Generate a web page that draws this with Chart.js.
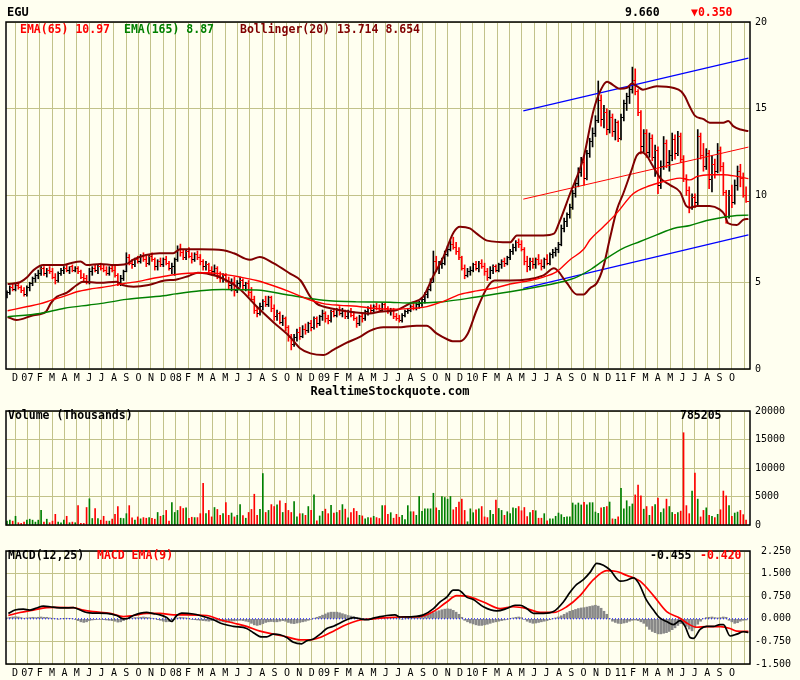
<!DOCTYPE html>
<html><head><meta charset="utf-8">
<script src="https://cdn.jsdelivr.net/npm/chart.js@4.4.0/dist/chart.umd.min.js"></script>
<style>
html,body{margin:0;padding:0;background:#FFFFF0;}
#wrap{position:relative;width:800px;height:680px;overflow:hidden;background:#FFFFF0;}
canvas{position:absolute;left:0;}
</style></head><body>
<div id="wrap">
<canvas id="c1" width="800" height="400" style="top:0;width:800px;height:400px"></canvas>
<canvas id="c2" width="800" height="140" style="top:400px;width:800px;height:140px"></canvas>
<canvas id="c3" width="800" height="140" style="top:540px;width:800px;height:140px"></canvas>
</div>
<script>
// ---------- tick labels ----------
const monthLabels = ['D',
 '07','F','M','A','M','J','J','A','S','O','N','D',
 '08','F','M','A','M','J','J','A','S','O','N','D',
 '09','F','M','A','M','J','J','A','S','O','N','D',
 '10','F','M','A','M','J','J','A','S','O','N','D',
 '11','F','M','A','M','J','J','A','S','O',''];
const priceTicks = [0,5,10,15,20];
const volumeTicks = [0,5000,10000,15000,20000];
const macdTicks = [-1.5,-0.75,0,0.75,1.5,2.25];

// weekly bars: time in months since Dec 2006
const firstWeek = -0.65;
const weekStep = 12/52.18;

// ---------- weekly OHLC ----------
const priceOpen = [4.3,4.4,4.7,4.6,4.8,4.7,4.5,4.3,4.7,4.9,5.2,5.4,5.5,5.8,5.5,5.7,5.6,5.3,5.1,5.5,5.7,5.8,5.7,5.9,5.7,5.8,5.6,5.3,5.2,5.0,
5.6,5.8,5.7,5.9,5.8,5.7,5.5,5.8,5.7,5.4,5.0,5.2,5.6,6.4,6.1,6.0,6.3,6.2,6.5,6.3,6.1,6.5,6.3,5.9,6.2,6.0,6.3,6.1,5.8,5.9,
6.3,6.9,6.7,6.4,6.8,6.5,6.3,6.6,6.4,6.2,5.9,6.0,5.7,5.6,5.8,5.4,5.2,5.4,5.1,4.8,5.0,4.5,4.9,5.1,4.8,4.9,4.4,4.0,3.4,3.2,
3.6,3.9,3.7,4.1,3.5,3.0,3.2,2.7,2.9,2.4,1.8,1.4,1.8,2.1,1.9,2.3,2.2,2.6,2.4,2.9,2.6,3.0,3.2,2.9,2.8,3.3,3.1,3.4,3.2,3.3,
3.0,3.3,3.1,2.9,2.6,3.0,2.9,3.3,3.5,3.4,3.6,3.5,3.4,3.7,3.5,3.3,3.4,3.0,2.9,2.8,3.1,3.3,3.4,3.6,3.5,3.7,3.8,4.0,4.3,4.6,
5.0,6.2,5.8,6.0,6.1,6.6,6.9,7.2,7.0,6.8,6.4,5.8,5.4,5.6,5.7,6.0,5.8,6.1,5.9,5.6,5.3,5.7,5.9,5.7,6.0,6.2,6.1,6.4,6.8,7.0,
7.3,7.2,6.9,6.2,5.9,6.2,6.0,6.3,6.1,5.9,6.3,6.1,6.6,6.7,6.9,7.2,8.1,8.5,8.9,9.3,10.1,10.7,11.3,11.9,11.0,12.4,13.1,13.6,14.3,15.5,
14.4,14.8,13.8,14.5,13.7,14.2,13.3,14.5,15.3,15.7,16.1,16.6,16.0,14.8,12.8,13.6,12.5,13.3,12.2,12.6,10.6,11.7,13.0,11.9,12.3,13.2,12.4,13.4,12.1,11.0,
10.3,9.3,9.9,9.6,13.4,12.3,11.7,12.4,10.9,11.8,11.4,12.6,11.7,10.2,8.8,10.0,9.6,10.6,11.4,11.0,10.01];
const priceHigh = [4.5,4.8,4.9,4.9,5.0,4.8,4.7,4.8,5.0,5.3,5.5,5.7,5.9,5.9,5.8,5.9,5.8,5.5,5.6,5.8,5.9,6.0,5.9,6.0,5.9,5.9,5.7,5.5,5.4,5.8,
5.9,6.0,6.0,6.1,6.0,5.9,5.9,6.0,6.0,5.5,5.4,5.7,6.7,6.6,6.3,6.4,6.5,6.6,6.7,6.5,6.6,6.7,6.4,6.3,6.4,6.4,6.5,6.2,6.1,6.4,
7.1,7.2,6.9,6.9,7.0,6.7,6.7,6.8,6.6,6.3,6.2,6.1,5.9,6.0,5.9,5.6,5.5,5.5,5.3,5.2,5.3,5.1,5.3,5.2,5.0,5.1,4.7,4.2,3.6,3.8,
4.0,4.2,4.2,4.2,3.7,3.4,3.3,3.1,3.0,2.5,2.0,2.0,2.3,2.4,2.5,2.6,2.7,2.8,3.0,3.0,3.1,3.4,3.3,3.1,3.4,3.5,3.5,3.6,3.5,3.4,
3.4,3.5,3.3,3.0,3.1,3.2,3.4,3.6,3.7,3.7,3.8,3.7,3.8,3.8,3.6,3.5,3.5,3.2,3.1,3.2,3.4,3.5,3.7,3.8,3.8,3.9,4.1,4.4,4.7,5.2,
6.8,6.5,6.2,6.4,6.8,7.1,7.4,7.6,7.3,7.0,6.5,6.0,5.8,5.9,6.1,6.2,6.2,6.3,6.1,5.8,5.9,6.0,6.0,6.1,6.3,6.4,6.5,6.9,7.2,7.4,
7.5,7.4,7.0,6.5,6.4,6.4,6.4,6.6,6.3,6.4,6.6,6.7,6.9,7.0,7.3,8.3,8.7,9.0,9.5,10.3,10.9,11.6,12.2,12.3,12.6,13.3,13.9,14.6,16.6,15.8,
15.2,15.0,14.9,14.7,14.4,14.3,14.7,15.5,15.9,16.3,17.4,17.3,16.1,14.9,13.8,13.8,13.6,13.5,12.9,12.8,12.0,13.4,13.2,12.6,13.6,13.5,13.7,13.6,12.3,11.2,
10.5,10.1,10.1,13.8,13.6,13.0,12.7,12.6,12.3,12.1,13.0,12.8,11.9,10.3,10.3,10.6,10.9,11.7,11.8,11.3,10.5];
const priceLow = [4.1,4.3,4.5,4.5,4.6,4.4,4.2,4.2,4.5,4.8,5.0,5.2,5.4,5.4,5.3,5.5,5.2,4.9,5.0,5.4,5.5,5.6,5.5,5.6,5.6,5.5,5.2,5.0,4.9,4.9,
5.4,5.6,5.5,5.7,5.6,5.4,5.4,5.6,5.3,4.8,4.8,5.1,5.6,6.0,5.8,5.9,6.1,6.1,6.2,5.9,6.0,6.2,5.7,5.7,5.9,5.9,6.0,5.7,5.5,5.4,
6.2,6.5,6.3,6.3,6.4,6.1,6.2,6.3,6.0,5.7,5.7,5.5,5.4,5.4,5.2,5.0,5.0,5.0,4.6,4.5,4.2,4.4,4.7,4.6,4.5,4.2,3.9,3.2,3.0,3.1,
3.4,3.6,3.6,3.3,2.8,2.8,2.6,2.5,2.2,1.6,1.1,1.3,1.6,1.7,1.8,2.0,2.1,2.2,2.3,2.4,2.5,2.8,2.7,2.6,2.7,3.0,3.0,3.1,3.0,2.9,
2.9,3.0,2.8,2.4,2.5,2.7,2.8,3.1,3.2,3.3,3.4,3.3,3.3,3.4,3.2,3.1,2.9,2.8,2.7,2.7,3.0,3.2,3.3,3.4,3.4,3.5,3.6,3.8,4.1,4.5,
5.0,5.6,5.5,5.8,6.0,6.5,6.8,6.9,6.6,6.3,5.7,5.2,5.3,5.4,5.6,5.7,5.6,5.8,5.4,5.1,5.2,5.5,5.6,5.6,5.8,5.9,6.0,6.3,6.6,6.8,
7.0,6.8,6.0,5.6,5.7,5.8,5.8,6.0,5.7,5.8,6.0,6.0,6.4,6.5,6.7,7.1,7.9,8.2,8.7,9.2,9.9,10.5,11.1,10.6,10.9,12.2,12.8,13.4,14.2,14.0,
13.9,13.5,13.6,13.4,13.2,13.1,13.2,14.3,14.9,15.3,15.9,15.8,14.6,12.4,12.5,12.2,12.2,12.0,11.1,10.1,10.4,11.5,11.6,11.4,12.0,12.1,12.3,11.9,10.8,10.0,
9.0,9.2,9.3,9.4,12.1,11.4,11.5,10.4,10.2,11.0,11.3,11.4,10.0,8.4,8.7,9.3,9.5,10.3,10.5,9.9,9.6];
const priceClose = [4.4,4.7,4.6,4.8,4.7,4.5,4.3,4.7,4.9,5.2,5.4,5.5,5.8,5.5,5.7,5.6,5.3,5.1,5.5,5.7,5.8,5.7,5.9,5.7,5.8,5.6,5.3,5.2,5.0,5.6,
5.8,5.7,5.9,5.8,5.7,5.5,5.8,5.7,5.4,5.0,5.2,5.6,6.4,6.1,6.0,6.3,6.2,6.5,6.3,6.1,6.5,6.3,5.9,6.2,6.0,6.3,6.1,5.8,5.9,6.3,
6.9,6.7,6.4,6.8,6.5,6.3,6.6,6.4,6.2,5.9,6.0,5.7,5.6,5.8,5.4,5.2,5.4,5.1,4.8,5.0,4.5,4.9,5.1,4.8,4.9,4.4,4.0,3.4,3.2,3.6,
3.9,3.7,4.1,3.5,3.0,3.2,2.7,2.9,2.4,1.8,1.4,1.8,2.1,1.9,2.3,2.2,2.6,2.4,2.9,2.6,3.0,3.2,2.9,2.8,3.3,3.1,3.4,3.2,3.3,3.0,
3.3,3.1,2.9,2.6,3.0,2.9,3.3,3.5,3.4,3.6,3.5,3.4,3.7,3.5,3.3,3.4,3.0,2.9,2.8,3.1,3.3,3.4,3.6,3.5,3.7,3.8,4.0,4.3,4.6,5.0,
6.2,5.8,6.0,6.1,6.6,6.9,7.2,7.0,6.8,6.4,5.8,5.4,5.6,5.7,6.0,5.8,6.1,5.9,5.6,5.3,5.7,5.9,5.7,6.0,6.2,6.1,6.4,6.8,7.0,7.3,
7.2,6.9,6.2,5.9,6.2,6.0,6.3,6.1,5.9,6.3,6.1,6.6,6.7,6.9,7.2,8.1,8.5,8.9,9.3,10.1,10.7,11.3,11.9,11.0,12.4,13.1,13.6,14.3,15.5,14.4,
14.8,13.8,14.5,13.7,14.2,13.3,14.5,15.3,15.7,16.1,16.6,16.0,14.8,12.8,13.6,12.5,13.3,12.2,12.6,10.6,11.7,13.0,11.9,12.3,13.2,12.4,13.4,12.1,11.0,10.3,
9.3,9.9,9.6,13.4,12.3,11.7,12.4,10.9,11.8,11.4,12.6,11.7,10.2,8.8,10.0,9.6,10.6,11.4,11.0,10.01,9.66];

// ---------- weekly volume (thousands) ----------
const volume = [680,850,680,1530,400,280,510,850,1020,850,510,850,2560,510,1020,400,680,1870,510,400,
850,1530,400,510,400,3400,280,280,3070,4600,1140,2900,1140,850,1530,680,680,1020,1870,3240,
1190,1140,1990,3400,1250,850,1420,1080,1300,1190,1300,1190,1020,2200,1530,1700,2560,680,3920,2200,
2560,3240,2900,3000,1190,1360,1300,1300,1990,7330,1990,2560,1420,3070,2730,1700,1990,3920,1700,2100,
1420,1700,3580,1650,1190,2200,2730,5400,1700,2730,9030,2200,2560,3580,3240,3520,4260,2200,3800,2560,
2200,4090,1420,1990,1990,1700,3240,2560,5280,740,1590,2390,2780,1990,3460,2100,2200,2560,3580,2780,
1250,2200,2900,2390,1700,1590,1080,1300,1250,
1530,1300,1140,3400,3400,1870,2160,1190,1870,1360,1700,970,3400,2330,2330,1700,5000,2390,2840,2840,
2840,5570,3010,2560,5000,4830,4540,5000,2670,3120,4030,4540,2560,570,2840,2160,2670,2840,3240,1420,
1300,2560,1870,4370,2900,2560,1700,2330,1990,3010,2900,3240,2500,3070,1480,2160,2560,2500,1190,1190,
1990,740,1080,1080,1530,2100,1820,1360,1420,1420,3860,3520,3860,3520,3980,3520,3920,3920,2270,2040,
3010,3120,3240,4030,1080,1020,1420,6420,2840,4260,3240,3690,5280,6990,5110,2780,3240,1700,3240,3580,
4710,2200,2840,4540,3240,2200,1870,2160,2440,16190,3400,1990,5960,9090,4540,1420,2560,3010,1700,1530,
1300,1870,2670,5960,5110,3400,1530,2100,2270,2560,1820,850];

// ---------- weekly MACD histogram ----------
const macdHist = [0.03,0.05,0.06, 0.07,0.06,0.04,0.02,0.03, 0.04,0.05,0.04,0.05, 0.06,0.05,0.05,0.03, 0.02,0.0,-0.01,0.0,0.01,
0.02,0.01,0.0,-0.02, -0.06,-0.1,-0.12,-0.1, -0.06,-0.04,-0.03,-0.02,-0.02, -0.03,-0.04,-0.05,-0.06, -0.08,-0.11,-0.1,-0.06,
-0.02,0.02,0.03,0.04,0.04, 0.05,0.06,0.05,0.04, 0.02,0.0,-0.03,-0.05, -0.08,-0.1,-0.09,-0.05,-0.02,
0.03,0.05,0.04,0.03, 0.01,-0.02,-0.03,-0.04,-0.05, -0.06,-0.07,-0.08,-0.06, -0.05,-0.06,-0.08,-0.1, -0.12,-0.1,-0.08,-0.07,-0.06,
-0.05,-0.06,-0.08,-0.1, -0.15,-0.2,-0.22,-0.2, -0.16,-0.12,-0.1,-0.09,-0.1, -0.1,-0.08,-0.06,-0.08, -0.12,-0.15,-0.16,-0.14,
-0.12,-0.1,-0.08,-0.05,-0.02, 0.02,0.05,0.08,0.12,
0.16,0.2,0.22,0.22, 0.22,0.2,0.17,0.14,0.11, 0.09,0.07,0.05,0.03, 0.01,0.0,-0.01,0.0, 0.01,0.02,0.03,0.02,0.03,
0.03,0.04,0.03,0.02, 0.0,-0.01,0.0,0.01, 0.02,0.03,0.04,0.05,0.07, 0.1,0.14,0.17,0.2, 0.24,0.27,0.3,0.32,0.33,
0.32,0.28,0.22,0.15, 0.05,-0.05,-0.1,-0.14,
-0.17,-0.2,-0.22,-0.22,-0.2, -0.18,-0.15,-0.12,-0.1, -0.08,-0.06,-0.04,-0.02, 0.01,0.03,0.05,0.06,0.04,
-0.02,-0.08,-0.12,-0.15, -0.14,-0.12,-0.1,-0.08, -0.06,-0.03,0.0,0.03,0.06, 0.1,0.15,0.2,0.25, 0.28,0.31,0.34,0.36,
0.37,0.39,0.41,0.43,0.45, 0.42,0.35,0.25,0.15, 0.0,-0.08,-0.12,-0.15,
-0.16,-0.14,-0.12,-0.08,-0.05, -0.04,-0.06,-0.1,-0.15, -0.25,-0.35,-0.42,-0.46, -0.5,-0.5,-0.48,-0.46,-0.42,
-0.36,-0.3,-0.22,-0.16, -0.18,-0.25,-0.34,-0.4,-0.3, -0.18,-0.08,0.0,0.04, 0.05,0.06,0.04,0.03,
0.04,0.06,0.05,-0.05,-0.1, -0.15,-0.13,-0.08,-0.05, -0.04];

// ---------- indicator lines [month, value] ----------
const ema65 = [[-0.6,3.36],[1,3.6],[2,3.75],[3,3.98],[4,4.2],[5,4.45],[6,4.6],[7,4.7],[8,4.82],[9,4.95],[10,5.05],[11,5.2],[12,5.33],[13,5.45],[14,5.52],[15.5,5.55],[16.5,5.5],[18.2,5.3],[19.55,5.1],[20.9,4.8],[22.25,4.45],[23.6,4.05],[24.94,3.77],[26.3,3.67],[27.64,3.62],[29,3.5],[30.34,3.45],[31.8,3.48],[33.0,3.55],[34.65,3.9],[36.0,4.3],[37.35,4.5],[39.0,4.7],[40.05,4.9],[41.7,5.1],[42.75,5.3],[43.8,5.6],[44.9,6.3],[46.0,6.9],[46.52,7.45],[47.6,8.2],[48.7,9.0],[50.0,10.1],[51.1,10.5],[52.2,10.75],[53.0,10.9],[53.8,11.0],[54.6,10.9],[55.2,11.1],[56.2,11.2],[57.3,11.2],[58.4,11.1],[59.33,10.97]];
const ema165 = [[-0.6,3.01],[2,3.2],[4,3.5],[6,3.69],[7,3.78],[9,4.01],[12,4.22],[13,4.33],[15,4.51],[16.8,4.58],[19.55,4.55],[22.25,4.25],[24.94,3.96],[27.64,3.87],[30.34,3.85],[32,3.8],[34.65,3.88],[37.35,4.15],[40.05,4.45],[42.75,4.8],[44.1,5.0],[45.44,5.3],[46.6,5.75],[47.9,6.4],[49.22,6.97],[50.57,7.35],[51.91,7.73],[53.26,8.1],[54.61,8.27],[55.96,8.56],[57.31,8.75],[58.4,8.85],[59.33,8.87]];
const bollUpper = [[-0.6,4.9],[0.4,5.0],[1.0,5.3],[1.5,5.7],[2.3,5.99],[3.9,5.99],[4.5,6.1],[5.3,6.19],[5.8,5.99],[6.9,6.05],[8.0,5.99],[9.0,6.05],[9.6,6.32],[10.6,6.57],[11.7,6.67],[12.8,6.67],[13.35,6.9],[15.0,6.9],[16.85,6.85],[17.7,6.67],[19.0,6.29],[19.8,6.46],[20.9,6.1],[22.25,5.5],[23.1,5.1],[23.9,4.15],[24.4,3.77],[24.94,3.6],[25.5,3.5],[27.1,3.3],[28.7,3.2],[29.5,3.3],[30.9,3.4],[32.0,3.8],[33.0,4.15],[33.8,5.3],[34.4,6.1],[34.65,6.45],[35.5,7.9],[36.0,8.2],[36.8,8.1],[37.35,7.8],[38.2,7.4],[40.05,7.3],[40.6,7.7],[42.75,7.7],[43.6,7.8],[44.0,8.4],[44.9,10.1],[46.0,12.2],[46.8,14.9],[47.4,16.1],[47.9,16.55],[48.1,16.5],[48.95,16.15],[49.5,16.2],[49.9,16.45],[50.3,16.3],[50.8,16.1],[51.9,16.3],[53.3,16.2],[53.9,16.0],[54.2,15.7],[54.6,15.1],[55.0,14.6],[55.7,14.4],[56.2,14.2],[57.3,14.2],[57.7,14.3],[58.1,14.0],[58.7,13.8],[59.33,13.71]];
const bollLower = [[-0.6,3.0],[0.1,2.82],[1.5,3.1],[2.5,3.3],[2.9,3.8],[3.4,4.17],[4.2,4.4],[5.0,4.84],[5.5,5.03],[6.9,4.97],[8.2,5.03],[8.7,4.84],[9.6,4.74],[10.8,4.84],[12.1,5.1],[13.0,5.15],[14.0,5.35],[14.8,5.55],[15.5,5.5],[16.85,5.2],[18.2,4.6],[19.55,3.6],[20.9,2.7],[22.25,1.85],[23.05,1.2],[23.9,0.9],[24.94,0.8],[25.75,1.1],[26.8,1.5],[27.9,1.85],[28.7,2.2],[29.8,2.4],[30.9,2.4],[32.5,2.5],[33.3,2.5],[34.1,2.05],[35.0,1.7],[35.4,1.6],[36.0,1.6],[36.6,2.0],[37.35,3.4],[38.2,4.7],[38.8,5.1],[40.05,5.1],[42.75,5.4],[43.6,5.8],[44.6,5.0],[45.44,4.3],[46.0,4.3],[46.52,4.66],[47.06,4.95],[47.6,5.9],[48.1,7.45],[48.7,9.2],[49.2,10.1],[49.8,11.3],[50.3,12.3],[50.7,12.5],[51.1,12.3],[51.6,11.7],[52.2,11.0],[53.0,10.6],[53.8,10.2],[54.3,9.4],[54.6,9.3],[55.2,9.4],[56.2,9.4],[57.0,9.2],[57.4,8.9],[57.7,8.4],[58.4,8.3],[58.9,8.6],[59.33,8.65]];
const channelUpper = [[41.12,14.88],[59.33,17.92]];
const channelMid = [[41.12,9.79],[59.33,12.79]];
const channelLower = [[41.12,4.65],[59.33,7.73]];
const macdLine = [[-0.54,0.18],[0,0.29],[0.67,0.32],[1.21,0.29],[1.75,0.36],[2.29,0.42],[2.83,0.4],[3.37,0.37],[3.91,0.36],[4.72,0.37],[5.26,0.29],[5.8,0.21],[6.34,0.19],[7.42,0.18],[8.23,0.11],[8.76,0.0],[9.17,0.02],[9.57,0.11],[10.65,0.21],[11.19,0.17],[11.73,0.13],[12.27,0.04],[12.67,-0.09],[13.08,0.11],[13.48,0.19],[14.43,0.16],[14.97,0.11],[16.05,-0.03],[16.59,-0.14],[17.66,-0.25],[18.74,-0.32],[19.28,-0.46],[19.96,-0.6],[20.36,-0.6],[20.9,-0.51],[21.44,-0.53],[21.98,-0.62],[22.52,-0.78],[23.19,-0.83],[23.6,-0.73],[24.14,-0.67],[24.68,-0.51],[25.22,-0.32],[25.76,-0.25],[26.3,-0.14],[26.83,-0.03],[27.37,0.04],[27.91,0.0],[28.45,-0.03],[28.99,0.02],[29.53,0.07],[30.07,0.11],[30.74,0.13],[31.15,0.06],[32.23,0.07],[33.04,0.13],[33.85,0.34],[34.39,0.56],[34.93,0.72],[35.46,0.95],[35.87,0.95],[36.14,0.88],[36.54,0.72],[37.08,0.64],[37.89,0.4],[38.97,0.26],[39.78,0.34],[40.45,0.45],[40.86,0.45],[41.4,0.34],[41.94,0.18],[42.75,0.18],[43.56,0.24],[44.36,0.56],[44.9,0.88],[45.44,1.14],[45.98,1.3],[46.52,1.54],[47.06,1.84],[47.6,1.78],[48.14,1.62],[48.95,1.25],[49.49,1.28],[50.03,1.36],[50.43,1.2],[51.1,0.61],[51.65,0.29],[52.19,0.02],[52.72,-0.09],[53.26,-0.19],[53.8,-0.06],[54.21,-0.25],[54.61,-0.62],[54.88,-0.65],[55.42,-0.35],[55.96,-0.25],[56.5,-0.25],[57.04,-0.19],[57.31,-0.19],[57.85,-0.57],[58.39,-0.51],[58.93,-0.43],[59.33,-0.455]];
const signalLine = [[-0.54,0.11],[0.4,0.21],[1.48,0.29],[2.56,0.37],[3.1,0.38],[4.72,0.37],[5.53,0.29],[6.34,0.24],[7.69,0.18],[8.76,0.07],[9.57,0.11],[10.65,0.18],[11.73,0.18],[12.81,0.13],[13.89,0.13],[15.51,0.11],[16.59,-0.03],[17.66,-0.14],[18.74,-0.25],[19.82,-0.41],[20.9,-0.51],[21.98,-0.6],[23.06,-0.7],[23.87,-0.7],[24.68,-0.62],[25.76,-0.41],[26.83,-0.19],[27.91,-0.04],[28.99,0.0],[30.07,0.04],[31.15,0.06],[32.77,0.07],[33.85,0.24],[34.93,0.56],[35.73,0.77],[36.54,0.75],[37.89,0.56],[39.24,0.34],[40.32,0.4],[41.4,0.34],[42.48,0.21],[43.56,0.21],[44.63,0.4],[45.71,0.77],[46.79,1.3],[47.87,1.6],[48.68,1.57],[49.49,1.44],[50.03,1.36],[50.57,1.25],[51.65,0.77],[52.72,0.24],[53.8,0.02],[54.34,-0.14],[55.15,-0.28],[55.96,-0.26],[57.04,-0.26],[57.85,-0.32],[58.39,-0.41],[59.33,-0.42]];

// ---------- styling ----------
const X_MIN = -0.73, X_MAX = 59.46;
const MONO = '"DejaVu Sans Mono", monospace';
const GRID = '#c2c28a';
const BOLD = 'bold 11.5px ' + MONO;

const frame = {
  id:'frame',
  afterDraw(chart, args, opts){
    const {ctx, chartArea:a} = chart;
    ctx.save();
    ctx.strokeStyle = '#000'; ctx.lineWidth = 1.5;
    ctx.strokeRect(a.left, a.top, a.right - a.left, a.bottom - a.top);
    (opts.texts || []).forEach(t => {
      ctx.font = t.font || BOLD; ctx.fillStyle = t.color || '#000';
      ctx.textAlign = t.align || 'left'; ctx.textBaseline = 'middle';
      ctx.fillText(t.text, t.x, t.y);
    });
    ctx.restore();
  }
};
Chart.register(frame);

function options(padTop, xHeight, showX, yTicks, yFmt, texts, hideZero){
  return {
    responsive:false, animation:false, events:[],
    layout:{padding:{left:6, top:padTop, right:0, bottom:0}},
    plugins:{legend:{display:false}, tooltip:{enabled:false}, frame:{texts}},
    scales:{
      x:{type:'linear', min:X_MIN, max:X_MAX, offset:false,
        afterBuildTicks:s => { s.ticks = monthLabels.map((_, i) => ({value:i})); },
        afterFit:s => { s.height = xHeight; },
        grid:{color:GRID, drawTicks:false, offset:false}, border:{display:false},
        ticks:{display:showX, autoSkip:false, maxRotation:0, minRotation:0, padding:3, color:'#000',
          font:{family:MONO, size:10}, callback:v => monthLabels[Math.round(v)]}},
      y:{type:'linear', position:'right', min:yTicks[0], max:yTicks[yTicks.length-1],
        afterBuildTicks:s => { s.ticks = yTicks.map(v => ({value:v})); },
        afterFit:s => { s.width = 50; },
        grid:{drawTicks:false, color:c => (hideZero && c.tick && c.tick.value === 0) ? 'rgba(0,0,0,0)' : GRID},
        border:{display:false},
        ticks:{padding:5, color:'#000', font:{family:MONO, size:10}, callback:yFmt}}
    }
  };
}

const weekX = i => firstWeek + i * weekStep;
const up = priceClose.map((c, i) => c >= priceOpen[i]);
const pts = arr => arr.map(([x, y]) => ({x, y}));
const lineDs = (arr, color, w, extra) => Object.assign({type:'line', data:pts(arr), borderColor:color, borderWidth:w,
  pointRadius:0, fill:false, cubicInterpolationMode:'monotone'}, extra || {});

function tickImg(color, left){
  const c = document.createElement('canvas'); c.width = 5; c.height = 1;
  const g = c.getContext('2d'); g.fillStyle = color; g.fillRect(left ? 0 : 3, 0, 2, 1); return c;
}
const openUp = tickImg('#000', true), openDn = tickImg('#f00', true);
const closeUp = tickImg('#000', false), closeDn = tickImg('#f00', false);

// ---------- price chart ----------
new Chart(document.getElementById('c1'), {
  type:'line',
  data:{datasets:[
    lineDs(ema65, '#ff0000', 1.4),
    lineDs(ema165, '#008000', 1.4),
    lineDs(bollUpper, '#800000', 2),
    lineDs(bollLower, '#800000', 2),
    lineDs(channelUpper, '#0000ff', 1.2, {cubicInterpolationMode:'default'}),
    lineDs(channelMid, '#ff0000', 1, {cubicInterpolationMode:'default'}),
    lineDs(channelLower, '#0000ff', 1.2, {cubicInterpolationMode:'default'}),
    {type:'line', showLine:false, data:priceOpen.map((v, i) => ({x:weekX(i), y:v})), pointRadius:2,
      pointStyle:c => up[c.dataIndex] ? openUp : openDn},
    {type:'line', showLine:false, data:priceClose.map((v, i) => ({x:weekX(i), y:v})), pointRadius:2,
      pointStyle:c => up[c.dataIndex] ? closeUp : closeDn},
    {type:'bar', data:priceHigh.map((h, i) => ({x:weekX(i), y:[priceLow[i], h]})),
      backgroundColor:up.map(u => u ? '#000000' : '#ff0000'), barThickness:1, borderWidth:0}
  ]},
  options:options(22, 31, true, priceTicks, v => String(v), [
    {text:'EGU', x:7, y:13, font:'bold 12px ' + MONO},
    {text:'9.660', x:625, y:13},
    {text:'\u25BC0.350', x:691, y:13, color:'#ff0000'},
    {text:'EMA(65) 10.97', x:20, y:30, color:'#ff0000'},
    {text:'EMA(165) 8.87', x:124, y:30, color:'#008000'},
    {text:'Bollinger(20) 13.714 8.654', x:240, y:30, color:'#800000'},
    {text:'RealtimeStockquote.com', x:390, y:392, align:'center', font:'bold 12px ' + MONO}
  ], false)
});

// ---------- volume chart ----------
new Chart(document.getElementById('c2'), {
  type:'line',
  data:{datasets:[
    {type:'bar', data:volume.map((v, i) => ({x:weekX(i), y:v})),
      backgroundColor:volume.map((v, i) => up[i] ? '#008000' : '#ff0000'), barThickness:1, borderWidth:0}
  ]},
  options:options(7, 15, false, volumeTicks, v => String(v), [
    {text:'Volume (Thousands)', x:8, y:16},
    {text:'785205', x:680, y:16}
  ], false)
});

// ---------- MACD chart ----------
new Chart(document.getElementById('c3'), {
  type:'line',
  data:{datasets:[
    lineDs(macdLine, '#000000', 1.7),
    lineDs(signalLine, '#ff0000', 1.7),
    {type:'line', data:[{x:X_MIN, y:0}, {x:X_MAX, y:0}], borderColor:'#0000ff', borderWidth:1,
      borderDash:[1,2], pointRadius:0},
    {type:'bar', data:macdHist.map((v, i) => ({x:weekX(i), y:v})), backgroundColor:'#888888',
      barThickness:2, borderWidth:0}
  ]},
  options:options(7, 16, true, macdTicks, v => v.toFixed(3).padStart(6, ' '), [
    {text:'MACD(12,25)', x:8, y:16},
    {text:'MACD EMA(9)', x:97, y:16, color:'#ff0000'},
    {text:'-0.455', x:650, y:16},
    {text:'-0.420', x:700, y:16, color:'#ff0000'}
  ], true)
});
</script>
</body></html>
